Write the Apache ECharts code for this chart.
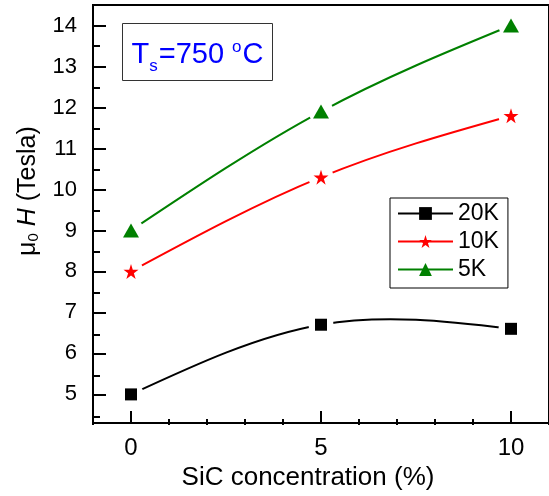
<!DOCTYPE html>
<html>
<head>
<meta charset="utf-8">
<script src="https://cdn.jsdelivr.net/npm/echarts@6/dist/echarts.min.js"></script>
<style>
  html, body { margin: 0; padding: 0; background: #fff; }
  #chart { width: 549px; height: 496px; }
</style>
</head>
<body>
<div id="chart"></div>
<script>
// SiC concentration (%) on the x axis
const sicConcentration = [0, 5, 10];
// Field values (Tesla) at each temperature
const field20K = [5.0, 6.7, 6.6];
const field10K = [8.0, 10.3, 11.8];
const field5K = [9.0, 11.9, 14.0];
const seriesNames = ['20K', '10K', '5K'];

// Tick positions
const xMajorTicks = [0, 5, 10];
const xMinorTicks = [-1, 1, 2, 3, 4, 6, 7, 8, 9, 11];
const yMajorTicks = [5, 6, 7, 8, 9, 10, 11, 12, 13, 14];
const yMinorTicks = [4.5, 5.5, 6.5, 7.5, 8.5, 9.5, 10.5, 11.5, 12.5, 13.5, 14.5];

const FONT = '"Liberation Sans", Arial, sans-serif';
const STAR = 'path://M50 0 L61.23 34.55 L97.55 34.55 L68.17 55.9 L79.39 90.45 L50 69.1 L20.61 90.45 L31.83 55.9 L2.45 34.55 L38.77 34.55 Z';

const styles = [
  { color: '#000000', symbol: 'rect', size: 12 },
  { color: '#ff0000', symbol: STAR, size: 15 },
  { color: '#008000', symbol: 'triangle', size: [16, 14] }
];
const values = [field20K, field10K, field5K];

function pairs(ys) {
  return sicConcentration.map((x, i) => [x, ys[i]]);
}

// Natural cubic spline through the points, returned as Bezier segments
// (x is linear along each segment, so the conversion is exact).
function splineSegments(xs, ys) {
  const n = xs.length;
  const h = [];
  for (let i = 0; i < n - 1; i++) h.push(xs[i + 1] - xs[i]);
  const M = new Array(n).fill(0);
  if (n > 2) {
    const a = [], b = [], c = [], d = [];
    for (let i = 1; i < n - 1; i++) {
      a.push(h[i - 1]);
      b.push(2 * (h[i - 1] + h[i]));
      c.push(h[i]);
      d.push(6 * ((ys[i + 1] - ys[i]) / h[i] - (ys[i] - ys[i - 1]) / h[i - 1]));
    }
    const m = b.length;
    for (let i = 1; i < m; i++) {
      const w = a[i] / b[i - 1];
      b[i] -= w * c[i - 1];
      d[i] -= w * d[i - 1];
    }
    const sol = new Array(m);
    sol[m - 1] = d[m - 1] / b[m - 1];
    for (let i = m - 2; i >= 0; i--) sol[i] = (d[i] - c[i] * sol[i + 1]) / b[i];
    for (let i = 0; i < m; i++) M[i + 1] = sol[i];
  }
  const segs = [];
  for (let i = 0; i < n - 1; i++) {
    const hi = h[i];
    const slope = (ys[i + 1] - ys[i]) / hi;
    const d0 = slope - hi * (2 * M[i] + M[i + 1]) / 6;
    const d1 = slope + hi * (M[i] + 2 * M[i + 1]) / 6;
    segs.push([
      [xs[i], ys[i]],
      [xs[i] + hi / 3, ys[i] + d0 * hi / 3],
      [xs[i + 1] - hi / 3, ys[i + 1] - d1 * hi / 3],
      [xs[i + 1], ys[i + 1]]
    ]);
  }
  return segs;
}

const series = [];
values.forEach((ys, k) => {
  const st = styles[k];
  // spline curve through the points
  series.push({
    type: 'custom',
    coordinateSystem: 'cartesian2d',
    data: pairs(ys),
    z: 1,
    silent: true,
    clip: true,
    renderItem: function (params, api) {
      if (params.dataIndex !== 0) return null;
      const segs = splineSegments(sicConcentration, ys);
      let d = '';
      segs.forEach((s, i) => {
        const p = s.map(pt => api.coord(pt));
        if (i === 0) d += 'M' + p[0][0] + ' ' + p[0][1];
        d += ' C' + p[1][0] + ' ' + p[1][1] + ' ' + p[2][0] + ' ' + p[2][1] + ' ' + p[3][0] + ' ' + p[3][1];
      });
      return {
        type: 'path',
        shape: { pathData: d },
        style: { fill: null, stroke: st.color, lineWidth: 2 }
      };
    }
  });
  // white gap around each point so the curve stops short of the marker
  series.push({
    type: 'scatter',
    data: pairs(ys),
    symbol: 'circle',
    symbolSize: 25,
    itemStyle: { color: '#ffffff', opacity: 1 },
    z: 5,
    silent: true
  });
  // the markers (this series also feeds the legend)
  series.push({
    name: seriesNames[k],
    type: 'line',
    data: pairs(ys),
    symbol: st.symbol,
    symbolSize: st.size,
    showSymbol: true,
    color: st.color,
    lineStyle: { width: 2, color: st.color, opacity: 0 },
    itemStyle: { color: st.color, opacity: 1 },
    z: 6,
    silent: true
  });
});

const axisLineStyle = { color: '#000', width: 2 };
const gridBox = { left: 93, right: -6, top: 5, bottom: 71 };

// minor tick axes live on a second, identical grid
series.push({ type: 'scatter', xAxisIndex: 1, yAxisIndex: 1, data: [], silent: true });

const option = {
  animation: false,
  backgroundColor: '#fff',
  grid: [
    Object.assign({ show: true, borderColor: '#000', borderWidth: 2, backgroundColor: 'transparent' }, gridBox),
    Object.assign({ show: false }, gridBox)
  ],
  xAxis: [
    {
      type: 'value', min: -1, max: 11, gridIndex: 0,
      name: 'SiC concentration (%)',
      nameLocation: 'middle',
      nameGap: 36,
      nameTextStyle: { fontSize: 26, fontFamily: FONT, color: '#000', padding: [0, 26, 0, 0] },
      axisLine: { onZero: false, lineStyle: axisLineStyle },
      axisTick: { inside: true, length: 12, lineStyle: { color: '#000', width: 2 }, customValues: xMajorTicks },
      axisLabel: { customValues: xMajorTicks, fontSize: 24, fontFamily: FONT, color: '#000', margin: 13 },
      splitLine: { show: false }
    },
    {
      type: 'value', min: -1, max: 11, gridIndex: 1,
      axisLine: { show: false, onZero: false },
      axisTick: { inside: true, length: 6, lineStyle: { color: '#000', width: 2 }, customValues: xMinorTicks },
      axisLabel: { show: false },
      splitLine: { show: false }
    }
  ],
  yAxis: [
    {
      type: 'value', min: 4.3, max: 14.5, gridIndex: 0,
      name: '{mu|μ}{sub|0} {ih|H} (Tesla)',
      nameLocation: 'middle',
      nameGap: 51,
      nameRotate: 90,
      nameTextStyle: {
        fontSize: 25, fontFamily: FONT, color: '#000', padding: [0, 0, 0, 46],
        rich: {
          mu: { fontSize: 25, fontFamily: FONT, color: '#000' },
          sub: { fontSize: 15, fontFamily: FONT, color: '#000', padding: [12, 0, 0, 0] },
          ih: { fontSize: 25, fontFamily: FONT, fontStyle: 'italic', color: '#000' }
        }
      },
      axisLine: { onZero: false, lineStyle: axisLineStyle },
      axisTick: { inside: true, length: 13, lineStyle: { color: '#000', width: 2 }, customValues: yMajorTicks },
      axisLabel: { customValues: yMajorTicks, fontSize: 22, fontFamily: FONT, color: '#000', margin: 16 },
      splitLine: { show: false }
    },
    {
      type: 'value', min: 4.3, max: 14.5, gridIndex: 1,
      axisLine: { show: false, onZero: false },
      axisTick: { inside: true, length: 7, lineStyle: { color: '#000', width: 2 }, customValues: yMinorTicks },
      axisLabel: { show: false },
      splitLine: { show: false }
    }
  ],
  legend: {
    data: seriesNames,
    orient: 'vertical',
    left: 390,
    top: 198,
    itemWidth: 55,
    itemHeight: 16,
    itemGap: 5,
    padding: [4, 9, 7, 7],
    borderColor: '#000',
    borderWidth: 1,
    backgroundColor: '#fff',
    lineStyle: { width: 2, opacity: 1 },
    textStyle: { fontSize: 23, fontFamily: FONT, color: '#000' },
    selectedMode: false
  },
  graphic: [
    {
      type: 'group',
      left: 122,
      top: 23,
      children: [
        {
          type: 'rect',
          shape: { x: 0, y: 0, width: 150, height: 57 },
          style: { fill: '#fff', stroke: '#333', lineWidth: 1 }
        },
        {
          type: 'text',
          x: 9,
          y: 12,
          style: {
            text: '{a|T}{sub|s}{a|=750 }{sup|o}{a|C}',
            rich: {
              a: { fontSize: 29, fontFamily: FONT, fill: '#0000ff', lineHeight: 34 },
              sub: { fontSize: 17, fontFamily: FONT, fill: '#0000ff', padding: [22, 1, 0, 0] },
              sup: { fontSize: 17, fontFamily: FONT, fill: '#0000ff', padding: [0, 1, 16, 0] }
            }
          }
        }
      ]
    }
  ],
  series: series
};

const chart = echarts.init(document.getElementById('chart'), null, { renderer: 'canvas' });
chart.setOption(option);
</script>
</body>
</html>
